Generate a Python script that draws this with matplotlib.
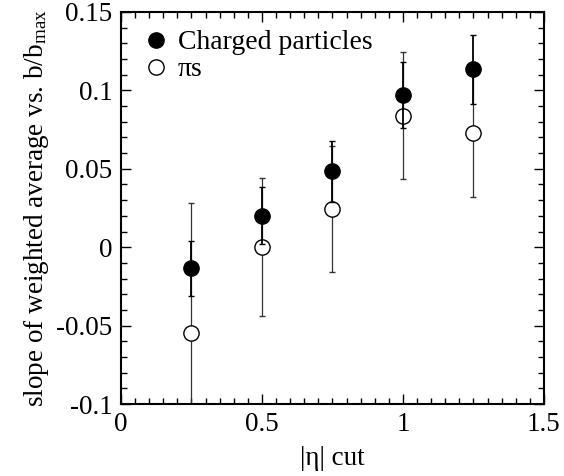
import numpy as np
import matplotlib.pyplot as plt
from matplotlib.lines import Line2D
from matplotlib.ticker import MultipleLocator

# data
eta_cut = [0.25, 0.5, 0.75, 1.0, 1.25]
charged = [-0.0135, 0.0202, 0.0485, 0.0969, 0.1133]
charged_err = [0.0173, 0.0183, 0.0195, 0.0210, 0.0217]
pions = [-0.0546, 0.0000, 0.0244, 0.0838, 0.0729]
pions_err = [0.0830, 0.0440, 0.0400, 0.0405, 0.0410]

plt.rcParams['font.family'] = ['Liberation Serif', 'DejaVu Serif']
plt.rcParams['mathtext.fontset'] = 'custom'
plt.rcParams['mathtext.rm'] = 'Liberation Serif'
plt.rcParams['mathtext.it'] = 'Liberation Serif:italic'
plt.rcParams['font.size'] = 19.5

fig = plt.figure(figsize=(5.64, 4.76), dpi=100)
ax = fig.add_axes([0.2145, 0.151, 0.75, 0.824])

ax.errorbar(eta_cut, pions, yerr=pions_err, fmt='o', mfc='white', mec='black',
            ms=11, mew=1.0, ecolor='#333333', elinewidth=0.9, capsize=2,
            capthick=0.9, zorder=2)
ax.errorbar(eta_cut, charged, yerr=charged_err, fmt='o', color='black',
            ms=11, elinewidth=1.3, capsize=2, capthick=1.0, zorder=3)

ax.set_xlim(0, 1.5)
ax.set_ylim(-0.1, 0.15)
ax.xaxis.set_minor_locator(MultipleLocator(0.05))
ax.yaxis.set_minor_locator(MultipleLocator(0.01))
ax.set_xticks([0, 0.5, 1, 1.5])
ax.set_xticklabels(['0', '0.5', '1', '1.5'])
ax.set_yticks([-0.1, -0.05, 0, 0.05, 0.1, 0.15])
ax.set_yticklabels(['-0.1', '-0.05', '0', '0.05', '0.1', '0.15'])
ax.tick_params(which='both', direction='in', top=True, right=True, width=1.0)
ax.tick_params(which='major', length=7, pad=6)
ax.tick_params(which='minor', length=4)
for s in ax.spines.values():
    s.set_linewidth(1.5)

ax.set_xlabel('|η| cut', labelpad=6)
ax.set_ylabel(r'slope of weighted average vs. b/b$_{\mathrm{max}}$', labelpad=4)

handles = [Line2D([], [], ls='none', marker='o', ms=11, color='black'),
           Line2D([], [], ls='none', marker='o', ms=11, mfc='white',
                  mec='black', mew=1.0)]
ax.legend(handles, ['Charged particles', 'πs'], loc='upper left',
          frameon=False, handletextpad=0.2, borderaxespad=0.25,
          labelspacing=0.05, handlelength=1.2, fontsize=20)

fig.savefig('out.png', dpi=100)
